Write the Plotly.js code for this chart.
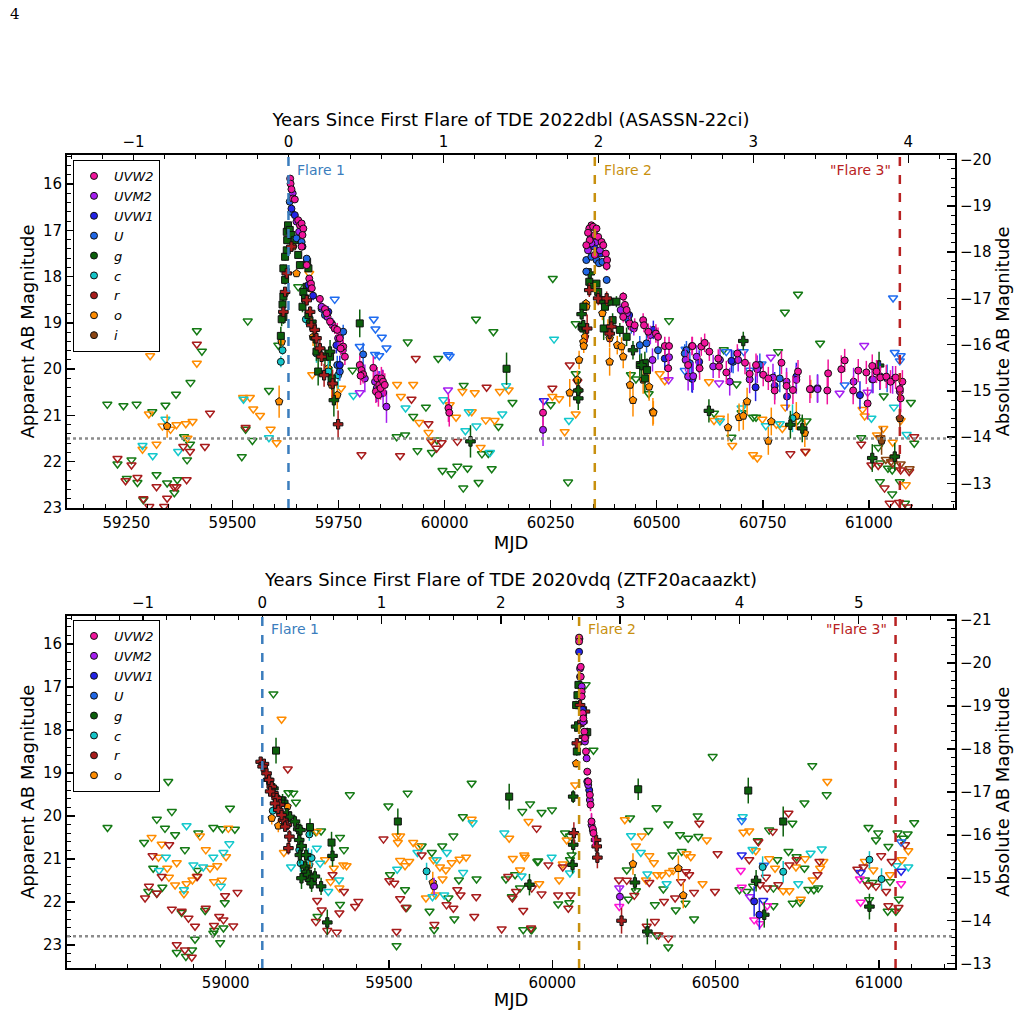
<!DOCTYPE html>
<html>
<head>
<meta charset="utf-8">
<script src="https://cdn.plot.ly/plotly-3.0.1.min.js"></script>
<style>
  html, body { margin: 0; padding: 0; background: #fff; }
  #chart { width: 1019px; height: 1033px; }
</style>
</head>
<body>
<div id="chart"></div>
<script>
// ---------------------------------------------------------------
// Light curves of two repeating TDEs: AT 2022dbl (top), AT 2020vdq (bottom)
// Detections: [MJD, apparent AB mag, 1-sigma error]
// Upper limits: [MJD, limiting AB mag]
// ---------------------------------------------------------------

const FILTERS_22DBL = ['UVW2', 'UVM2', 'UVW1', 'U', 'g', 'c', 'r', 'o', 'i'];
const FILTERS_20VDQ = ['UVW2', 'UVM2', 'UVW1', 'U', 'g', 'c', 'r', 'o'];

const FLARES_22DBL = [59632, 60354, 61073];
const FLARES_20VDQ = [59112, 60082, 61051];
const FLARE_LABELS = ['Flare 1', 'Flare 2', '"Flare 3"'];

const DISTMOD_22DBL = 35.47;
const DISTMOD_20VDQ = 36.44;
const LIMIT_22DBL = 21.5;
const LIMIT_20VDQ = 22.8;

const TITLE_22DBL = 'Years Since First Flare of TDE 2022dbl (ASASSN-22ci)';
const TITLE_20VDQ = 'Years Since First Flare of TDE 2020vdq (ZTF20acaazkt)';

// ---------------- AT 2022dbl : detections ----------------
const A_UVW2 = [
  [59636,15.88,0.05],[59637,15.99,0.05],[59639,16.11,0.05],[59642,16.31,0.05],[59647,16.33,0.05],
  [59655,16.78,0.05],[59659,16.89,0.05],[59663,16.85,0.05],[59667,16.96,0.05],[59665,17.10,0.05],
  [59663,17.35,0.06],[59675,17.75,0.06],[59681,18.04,0.06],[59685,18.15,0.07],[59687,18.25,0.07],
  [59706,18.48,0.08],[59718,18.70,0.10],[59722,18.79,0.10],[59730,18.97,0.12],[59741,19.12,0.12],
  [59747,19.15,0.15],[59753,19.33,0.15],[59761,19.51,0.15],[59765,19.73,0.18],[59755,19.55,0.15],
  [59800,19.91,0.20],[59804,20.02,0.20],[59808,20.11,0.20],[59802,20.14,0.20],[59832,19.97,0.25],
  [59841,20.20,0.25],[59846,20.34,0.25],[59851,20.20,0.25],[59855,20.27,0.25],[59838,20.48,0.25],
  [59844,20.56,0.25],[59849,20.41,0.25],[59859,20.34,0.25],
  [60009,20.84,0.30],[60011,20.94,0.30],[60232,20.94,0.30],
  [60346,16.89,0.05],[60341,16.96,0.05],[60350,16.92,0.05],[60358,16.96,0.05],[60338,17.05,0.05],
  [60354,17.10,0.05],[60362,17.14,0.05],[60342,17.21,0.05],[60370,17.25,0.06],[60334,17.32,0.06],
  [60374,17.32,0.06],[60380,17.50,0.07],[60354,17.53,0.06],[60383,17.64,0.08],[60382,17.77,0.10],
  [60421,18.43,0.10],[60425,18.61,0.10],[60429,18.72,0.12],[60421,18.87,0.12],[60436,19.01,0.15],
  [60448,19.05,0.15],[60468,18.94,0.15],[60470,19.05,0.15],[60480,19.19,0.18],[60498,19.23,0.20],
  [60503,19.30,0.20],[60519,19.50,0.20],[60529,19.50,0.20],[60527,19.98,0.25],[60583,19.50,0.20],
  [60574,19.91,0.25],
  [60584,19.50,0.20],[60605,19.51,0.20],[60613,19.43,0.20],[60624,19.62,0.20],[60601,19.98,0.25],
  [60645,19.77,0.20],[60647,19.94,0.25],[60664,20.07,0.25],[60690,19.66,0.20],[60708,19.86,0.25],
  [60719,20.10,0.25],[60734,19.91,0.25],[60751,20.12,0.25],[60763,20.20,0.25],[60778,20.46,0.30],
  [60794,19.86,0.25],[60806,20.36,0.30],[60821,20.45,0.30],[60833,20.05,0.25],[60861,20.43,0.30],
  [60902,20.46,0.30],[60904,20.09,0.30],[60935,20.00,0.30],[60943,19.81,0.25],[60963,20.46,0.30],
  [60975,20.03,0.25],[60994,20.07,0.25],[61008,19.93,0.25],[61018,20.05,0.25],[61027,20.18,0.25],
  [61041,20.16,0.25],[61051,20.27,0.25],[61063,20.18,0.25],[61073,20.43,0.30],[61079,20.27,0.25],
  [61075,20.63,0.30],[60997,20.74,0.35]
];
const A_UVM2 = [
  [59642,16.20,0.06],[59651,16.81,0.06],[59657,17.03,0.06],[59710,18.65,0.10],[59724,18.87,0.12],
  [59736,19.05,0.15],[59749,19.33,0.20],[59760,19.59,0.20],[59812,20.20,0.30],[59836,20.27,0.30],
  [59844,20.34,0.30],[59863,20.81,0.35],[59855,20.51,0.30],[60232,21.31,0.35],
  [60345,17.14,0.06],[60358,17.25,0.06],[60338,17.43,0.07],[60366,17.43,0.07],[60346,17.28,0.06],
  [60415,18.72,0.12],[60430,18.79,0.12],[60446,19.12,0.15],[60485,19.26,0.20],[60490,19.80,0.25],
  [60529,19.74,0.25],[60594,19.73,0.25],[60574,20.16,0.30],
  [60568,19.80,0.25],[60586,20.15,0.30],[60633,19.94,0.25],[60649,19.80,0.25],[60672,20.27,0.30],
  [60692,19.80,0.25],[60719,20.22,0.30],[60737,20.00,0.30],[60774,20.18,0.30],[60806,20.27,0.30],
  [60829,20.23,0.30],[60879,20.43,0.30],[60964,20.27,0.30],[61010,20.22,0.30],[61056,20.23,0.30],
  [61073,20.48,0.35]
];
const A_UVW1 = [
  [59639,16.53,0.05],[59647,16.67,0.05],[59665,17.35,0.06],[59679,18.18,0.08],[59690,18.41,0.10],
  [59726,18.76,0.12],[59745,19.48,0.18],[59753,19.91,0.20],[59840,20.41,0.30],[59854,20.31,0.30],
  [60352,17.35,0.06],[60368,17.50,0.07],[60492,19.15,0.20],[60519,19.77,0.25],[60583,20.20,0.30],
  [60435,18.83,0.12],
  [60584,20.21,0.30],[60600,19.84,0.25],[60676,19.82,0.25],[60733,20.39,0.30],[60778,20.36,0.30],
  [60807,20.59,0.30],[60829,20.16,0.30],[60879,20.41,0.30],[60979,20.56,0.30],[61026,20.15,0.30]
];
const A_U = [
  [59635,16.38,0.04],[59639,16.60,0.04],[59651,17.17,0.05],[59663,17.25,0.05],[59675,17.61,0.06],
  [59710,18.69,0.10],[59718,18.83,0.10],[59734,19.01,0.12],[59761,19.19,0.15],[59747,19.91,0.20],
  [59753,20.05,0.20],[59808,19.68,0.25],[59847,20.34,0.30],
  [60334,17.64,0.05],[60346,17.57,0.05],[60358,17.64,0.05],[60364,17.71,0.05],[60372,17.68,0.05],
  [60334,17.89,0.06],[60382,18.07,0.08],[60421,18.79,0.10],[60433,18.94,0.12],[60440,19.08,0.15],
  [60460,19.48,0.20],[60476,19.44,0.20],[60503,19.59,0.20],[60570,19.59,0.20],
  [60566,19.66,0.20],[60578,19.87,0.25],[60680,19.84,0.25],[60743,19.91,0.25],[60790,20.20,0.30],
  [61008,20.22,0.30],[61043,20.20,0.30]
];
const A_G_SQUARE = [
  [59628,17.03,0.06],[59631,16.89,0.06],[59635,16.99,0.06],[59629,17.21,0.06],[59639,17.10,0.06],
  [59628,17.43,0.07],[59624,17.57,0.08],[59620,17.82,0.08],[59624,18.07,0.10],[59620,18.43,0.12],
  [59618,18.60,0.12],[59620,18.87,0.15],[59616,18.92,0.15],[59614,19.28,0.20],[59647,17.21,0.06],
  [59655,17.53,0.07],[59659,17.75,0.08],[59676,17.68,0.08],[59679,17.82,0.08],[59675,18.22,0.10],
  [59667,18.33,0.10],[59671,18.47,0.10],[59665,18.65,0.12],[59679,18.83,0.12],[59698,19.62,0.20],
  [59702,20.05,0.30],[59718,19.73,0.20],[59730,19.73,0.20],[59734,20.20,0.25],[59800,19.01,0.30],
  [60146,19.99,0.35],
  [60341,18.11,0.07],[60346,18.22,0.07],[60358,18.15,0.07],[60362,18.33,0.08],[60370,18.51,0.10],
  [60378,18.65,0.10],[60389,18.54,0.10],[60405,18.54,0.12],[60375,19.12,0.25],[60396,18.94,0.15],
  [60413,19.15,0.15],[60429,19.30,0.20],[60460,19.91,0.25],[60472,19.87,0.25],[60477,20.02,0.25],
  [60327,18.65,0.10],[60323,19.08,0.12],[60327,19.12,0.12],[60472,20.20,0.30]
];
const A_G_CROSS = [
  [59686,18.97,0.15],[59694,19.33,0.20],[59730,19.62,0.25],[59739,20.67,0.35],[60061,21.56,0.35],
  [60323,18.81,0.12],[60327,19.05,0.12],[60444,19.59,0.20],[60464,19.91,0.25],[60315,20.63,0.25],
  [60315,20.46,0.25],[60342,17.93,0.08],
  [60623,20.90,0.25],[60704,19.39,0.20],[60815,21.20,0.30],[60843,21.28,0.30],[61008,21.92,0.30],
  [61061,21.89,0.30],[61024,19.92,0.30]
];
const A_R_CROSS = [
  [59628,17.93,0.08],[59624,18.33,0.10],[59620,18.76,0.12],[59639,17.35,0.07],[59675,18.51,0.10],
  [59683,18.76,0.12],[59686,19.05,0.15],[59694,19.15,0.15],[59698,19.33,0.20],[59706,19.55,0.20],
  [59710,19.73,0.20],[59716,20.13,0.25],[59736,20.31,0.30],[59749,21.19,0.30],
  [60341,18.29,0.15],[60362,18.47,0.15],[60382,18.47,0.15],[60336,19.12,0.30],[60393,19.08,0.20],
  [60389,19.23,0.20]
];
const A_C = [
  [59618,19.59,0.10],[59614,19.84,0.12],[59673,18.92,0.12],[59698,19.66,0.20],[59726,20.05,0.25],
  [59749,20.13,0.30],[60820,21.06,0.30]
];
const A_O = [
  [59346,21.23,0.25],[59610,20.70,0.35],
  [59626,17.86,0.08],[59643,17.35,0.06],[59651,17.93,0.08],[59624,18.36,0.10],[59616,19.41,0.15],
  [59683,18.25,0.10],[59690,19.30,0.20],[59726,19.98,0.25],[59734,20.34,0.30],[59747,20.56,0.30],
  [60333,18.58,0.10],[60334,18.65,0.10],[60331,19.30,0.15],[60327,19.41,0.15],[60328,19.50,0.15],
  [60317,19.80,0.20],[60295,20.51,0.30],[60372,18.79,0.15],[60385,19.12,0.20],[60389,19.33,0.20],
  [60407,19.48,0.20],[60417,19.51,0.20],[60421,19.73,0.25],[60389,19.84,0.30],[60437,20.34,0.30],
  [60444,20.67,0.35],[60468,20.23,0.30],[60482,20.38,0.30],[60491,20.92,0.30],[60313,20.23,0.20],
  [60316,20.45,0.20],
  [60668,21.26,0.30],[60694,21.04,0.30],[60704,21.01,0.30],[60713,20.70,0.30],[60770,21.13,0.30],
  [60763,21.55,0.30],[60829,21.01,0.30],[60849,21.38,0.30],[60863,20.43,0.20],[60492,20.94,0.25]
];
const A_I = [[61030,21.55,0.30],[61073,21.06,0.30]];

// ---------------- AT 2022dbl : upper limits ----------------
const AL_UVM2 = [[59800,20.51],[60008,20.45],[60528,20.23],[60647,20.30],[60769,19.74],[60931,20.52],
  [60989,19.49],[60997,20.50]];
const AL_UVW1 = [[60234,20.68]];
const AL_U = [[59741,18.49],[59833,18.92],[59837,19.13],[59852,19.31],[59863,19.54],[59800,19.51],
  [59836,19.68],[59846,19.71],[60008,19.69],[60012,19.72],[60568,19.57],[60566,20.03],[60664,19.62],
  [60705,19.62],[60719,20.02],[60747,19.89],[61061,19.64],[61075,19.71],[61073,19.82],[60943,20.34],
  [61057,18.46]];
const AL_G = [
  [59205,20.76],[59243,20.79],[59274,20.76],[59311,20.92],[59342,20.78],[59367,20.54],[59401,20.29],
  [59416,19.17],[59428,19.61],[59536,18.96],[59586,20.46],[59531,21.30],[59547,21.54],[59522,21.89],
  [59229,22.05],[59262,21.96],[59276,22.45],[59251,22.36],[59290,22.82],[59321,22.28],[59346,22.46],
  [59363,22.67],[59370,22.39],[59393,21.96],[59386,21.46],[59400,21.62],[59783,20.02],[59887,21.46],
  [59913,19.41],[59926,21.02],[59936,21.76],[59956,20.82],[59970,21.80],[59985,19.77],[59982,21.53],
  [59995,22.19],[60016,22.26],[60030,22.10],[60044,22.57],[60054,22.14],[60045,20.35],[60080,22.45],
  [60074,18.92],[60115,19.19],[60088,21.83],[60103,21.82],[60111,22.15],[60127,21.24],[60160,20.72],
  [59907,21.42],[59608,19.48],[59655,18.22],
  [60255,18.04],[60309,19.02],[60802,18.77],[60833,18.38],
  [60250,20.77],[60309,20.10],[60291,22.44],[60481,20.53],[60439,20.12],[60451,20.21],[60529,18.95],
  [60885,19.44],[60658,19.58],[60688,20.32],[60635,20.95],[60676,21.47],[60727,21.04],[60734,21.04],
  [60786,19.62],[60832,21.11],[60853,21.12],[60982,21.48],[61026,22.43],[61027,22.03],[61045,22.14],
  [61055,22.18],[61099,20.72],[61107,21.60],[61073,22.43],[61085,22.90],[61022,21.69],[61035,20.58],
  [61055,22.70],[60700,20.94]
];
const AL_C = [
  [59342,21.08],[59288,21.65],[59312,21.87],[59372,21.78],[59526,20.65],[59586,21.48],[59785,20.57],
  [59908,20.84],[59997,20.66],[60049,21.33],[60057,20.92],[60075,21.23],[60107,21.80],[60136,20.97],
  [60145,20.36],[60258,19.35],[60293,21.11],[60700,20.84],[60649,21.12],[60757,21.22],[60790,21.18],
  [61006,21.06],[61059,20.82],[61089,21.41]
];
const AL_R = [
  [59229,21.93],[59262,22.07],[59248,22.41],[59276,22.34],[59290,22.80],[59304,22.97],[59321,22.54],
  [59339,22.97],[59346,22.79],[59362,22.54],[59368,22.54],[59392,22.39],[59400,21.78],[59384,21.67],
  [59416,19.46],[59435,21.67],[59447,20.95],[59531,21.26],[59804,21.85],[59895,21.87],[59922,20.65],
  [59932,19.77],[59962,21.18],[59969,21.56],[59981,21.71],[59993,21.59],[60030,21.56],[60099,20.39],
  [60295,19.91],[60313,20.27],[60254,20.41],[60815,21.83],[60850,21.78],[60982,21.62],[61006,22.07],
  [61022,22.08],[61037,22.57],[61049,22.90],[61071,22.88],[61092,22.98],[61095,22.21],[61107,21.46],
  [61075,22.18],[61056,22.03]
];
const AL_O = [
  [59306,19.71],[59416,19.87],[59303,20.97],[59335,21.23],[59368,21.20],[59354,21.30],[59390,21.18],
  [59406,21.13],[59288,21.73],[59321,21.62],[59394,21.49],[59525,20.61],[59541,20.61],[59549,20.86],
  [59565,21.00],[59590,21.30],[59604,21.59],[59688,20.12],[59756,20.41],[59888,20.33],[59897,20.59],
  [59926,20.33],[59940,21.15],[59968,21.53],[60012,20.77],[60027,21.04],[60042,20.48],[60071,20.51],
  [60097,21.10],[60118,21.11],[60130,20.48],[60151,20.45],[60064,20.92],[60085,21.69],[59962,21.37],
  [59681,17.93],
  [60270,20.64],[60254,20.59],[60309,20.97],[60283,21.35],[60623,20.27],[60507,20.10],[60519,20.25],
  [60635,21.11],[60649,21.06],[60678,21.65],[60727,21.85],[60737,21.92],[60749,21.08],[60782,21.19],
  [60803,20.82],[60796,21.28],[60851,21.78],[60985,20.87],[60990,21.01],[61019,21.42],[61027,21.49],
  [61034,21.28],[61056,21.58],[61075,21.11],[61087,22.50]
];
const AL_I = [[61027,21.48],[61040,21.95],[61052,22.00],[61075,22.05],[61096,22.15],[61062,21.90]];

// ---------------- AT 2020vdq : detections ----------------
const B_UVW2 = [
  [60082,15.85,0.04],[60082,15.94,0.04],[60087,16.53,0.04],[60087,16.76,0.04],[60090,17.11,0.05],
  [60090,17.22,0.05],[60093,17.61,0.05],[60095,17.73,0.05],[60098,18.04,0.06],[60100,18.19,0.06],
  [60103,18.50,0.07],[60107,18.97,0.08],[60110,19.20,0.10],[60115,19.51,0.12],[60117,19.74,0.15],
  [60120,20.13,0.20],[60124,20.30,0.25],[60126,20.40,0.30]
];
const B_UVM2 = [
  [60083,15.88,0.04],[60085,16.57,0.04],[60090,16.99,0.05],[60095,17.81,0.05],[60100,18.27,0.06],
  [60105,18.66,0.08],[60110,19.28,0.10],[60115,19.63,0.15],[60120,20.21,0.25],[59638,21.64,0.20],
  [60207,21.88,0.25]
];
const B_UVW1 = [
  [60082,16.18,0.04],[60085,16.76,0.04],[60093,17.53,0.05],[60107,19.20,0.10],[60113,19.40,0.12],
  [60124,20.33,0.25],[60618,21.99,0.35],[60634,22.30,0.35]
];
const B_G_SQUARE = [
  [59154,18.48,0.30],[59258,20.26,0.20],[59324,20.62,0.25],[59174,19.64,0.15],[59527,20.13,0.30],
  [59868,19.55,0.30],[60080,16.95,0.10],[60073,17.42,0.10],[60075,18.50,0.10],[60107,18.05,0.10],
  [60077,17.19,0.10],[60600,19.41,0.30],[60263,19.38,0.25],[60707,20.13,0.35]
];
const B_G_CROSS = [
  [59130,19.16,0.05],[59146,19.36,0.06],[59161,19.63,0.07],[59176,19.67,0.08],[59187,19.94,0.10],
  [59197,20.02,0.10],[59212,20.13,0.12],[59222,20.31,0.15],[59229,20.33,0.15],[59225,20.56,0.15],
  [59232,20.70,0.20],[59227,20.91,0.20],[59243,21.18,0.20],[59248,21.30,0.20],[59253,21.37,0.20],
  [59258,21.49,0.20],[59263,21.57,0.20],[59273,21.41,0.20],[59232,21.45,0.25],[59292,21.64,0.20],
  [59311,22.48,0.30],[59327,20.93,0.25],[59166,19.67,0.08],[59246,20.91,0.25],[59930,21.60,0.25],
  [60073,17.92,0.08],[60064,19.55,0.15],[60064,20.67,0.20],[60062,21.14,0.20],[60253,21.55,0.20],
  [60291,22.69,0.30],[60624,21.51,0.25],[60649,22.30,0.30],[60971,22.11,0.30]
];
const B_R_CROSS = [
  [59107,18.74,0.05],[59117,18.79,0.05],[59113,18.85,0.05],[59125,19.01,0.05],[59133,19.16,0.06],
  [59141,19.32,0.06],[59146,19.47,0.07],[59156,19.59,0.08],[59166,19.74,0.08],[59161,19.86,0.10],
  [59176,20.09,0.10],[59187,20.21,0.12],[59195,20.48,0.15],[59192,20.75,0.15],[59182,20.25,0.12],
  [59171,19.98,0.10],[59151,19.71,0.08],[59136,19.43,0.07],
  [60075,18.31,0.10],[60092,17.81,0.08],[60097,18.16,0.10],[60134,20.56,0.20],[60136,20.71,0.20],
  [60138,20.97,0.25],[60066,20.40,0.25],[60212,22.44,0.30],[60100,17.57,0.08],[60085,17.42,0.08]
];
const B_C = [
  [59144,19.88,0.10],[59256,20.43,0.15],[59253,20.95,0.20],[59263,20.98,0.20],[59229,21.10,0.20],
  [59225,20.79,0.15],[59615,21.29,0.20],[60644,21.19,0.25],[60707,21.30,0.25],[60971,21.02,0.20],
  [61008,21.47,0.25]
];
const B_O = [
  [59141,20.05,0.15],[59161,20.23,0.15],[59189,19.78,0.10],[59256,21.14,0.20],[59634,21.55,0.25],
  [60073,18.78,0.10],[60087,17.46,0.10],[60247,21.12,0.25],[60386,21.22,0.30],[60401,21.85,0.30]
];

// ---------------- AT 2020vdq : upper limits ----------------
const BL_UVW2 = [[60205,22.11],[60577,21.27],[60580,21.66],[60618,22.42],[60636,22.51],[60658,22.09],
  [60942,21.47],[60944,22.01],[61068,21.58]];
const BL_UVM2 = [[60205,21.68],[60605,21.88]];
const BL_UVW1 = [[60580,20.91],[60646,21.97],[60944,21.32],[61068,21.29]];
const BL_U = [[60580,20.11],[61068,20.61],[60648,21.15]];
const BL_G = [
  [58638,20.27],[58750,20.62],[58789,20.08],[58835,19.90],[58814,20.29],[58845,20.44],[58875,20.79],
  [58916,20.40],[58962,20.27],[58990,20.30],[59013,19.82],[59028,20.31],[58778,21.22],[58763,21.76],
  [58789,21.80],[58806,21.66],[58914,21.27],[58937,22.20],[58865,22.25],[58850,23.18],[58878,23.27],
  [58897,23.12],[58906,22.87],[58962,22.73],[58965,22.67],[58983,22.95],[58993,22.61],[58997,22.02],
  [58824,19.20],[59380,19.51],[59498,19.77],[59557,19.47],[59753,19.24],[59523,23.02],[59503,21.37],
  [59600,20.70],[59549,21.72],[59554,22.13],[59624,22.22],[59631,20.85],[59663,20.70],[59682,21.91],
  [59697,20.47],[59700,22.40],[59714,21.49],[59726,20.02],[59768,21.47],[59638,22.65],[59908,19.90],
  [59932,19.72],[59954,21.06],[59886,21.37],[59858,21.47],[59911,22.65],[59901,21.68],[59934,22.64],
  [59876,21.88],
  [59192,19.46],[59207,19.47],[59215,19.68],[59292,20.35],[59276,20.37],[59350,20.50],[59362,20.79],
  [59350,22.06],[59281,22.34],[59146,17.16],
  [60102,16.95],[60126,18.47],[60491,18.62],[60796,18.83],[60840,19.51],
  [59967,19.92],[59999,19.86],[60039,20.40],[60054,20.47],[60059,20.91],[60054,21.02],[59957,21.05],
  [60018,22.05],[60052,22.02],[59937,22.65],[60319,19.81],[60445,20.00],[60355,20.19],[60294,20.34],
  [60391,20.44],[60416,20.52],[60447,20.48],[60238,20.05],[60368,20.91],[60396,20.83],[60228,21.26],
  [60256,21.74],[60233,21.94],[60314,22.07],[60340,21.70],[60378,22.19],[60408,22.03],[60434,22.40],
  [60355,23.05],[60319,22.77],[60629,20.58],[60664,20.33],[60689,21.02],[60723,20.83],[60748,20.95],
  [60772,21.22],[60735,20.17],[60772,19.70],[60573,21.72],[60595,21.76],[60615,21.64],[60677,21.68],
  [60677,22.09],[60736,22.03],[60758,22.01],[60784,21.71],[60801,21.72],[60814,21.68],[60968,20.27],
  [60998,20.40],[60991,20.56],[61029,20.71],[61057,20.40],[61075,20.52],[61088,20.42],[61108,20.16],
  [60957,21.49],[60981,21.55],[61034,21.53],[61027,22.22],[61061,21.94],[60970,21.95],[61052,22.22]
];
const BL_C = [
  [58880,20.23],[58901,21.14],[58931,21.19],[58796,21.27],[58817,20.96],[58872,21.72],[58962,20.96],
  [58993,20.85],[59011,20.65],[58985,21.64],[59200,21.19],[59279,20.75],[59289,21.10],[59347,21.49],
  [59525,21.24],[59587,20.85],[59646,21.02],[59677,20.85],[59727,21.32],[59756,20.16],[59853,20.40],
  [59906,21.40],[59633,21.88],[59669,21.84],[59314,21.76],
  [59998,20.96],[60054,21.33],[60241,20.46],[60271,20.85],[60291,21.35],[60350,21.58],[60583,20.02],
  [60613,20.78],[60753,21.58],[60791,20.87],[60825,20.77],[61090,21.19],[61054,21.16]
];
const BL_R = [
  [58753,21.91],[58765,21.64],[58776,20.93],[58789,21.80],[58804,21.41],[58827,20.67],[58835,22.17],
  [58865,22.22],[58886,22.38],[58850,23.00],[58875,23.12],[58896,23.29],[58906,22.57],[58913,21.41],
  [58939,22.15],[58980,22.34],[58964,22.55],[58993,22.42],[58998,21.86],[59023,22.56],[59036,21.78],
  [59483,20.54],[59501,21.51],[59516,21.57],[59534,21.93],[59551,22.13],[59523,22.69],[59600,20.91],
  [59639,22.53],[59676,22.07],[59697,22.15],[59709,21.72],[59719,21.84],[59761,22.34],[59767,21.88],
  [59845,22.63],[59865,21.41],[59878,21.91],[59889,21.76],[59911,22.20],[59935,22.61],[59952,20.29],
  [59190,18.91],[59327,21.37],[59406,21.99],[59396,22.11],[59362,21.76],[59280,21.97],[59294,22.19],
  [59276,22.46],[59348,22.26],[59311,22.67],[59340,22.71],
  [59988,21.14],[60032,21.19],[59937,21.68],[59967,21.82],[60018,21.84],[60056,21.84],[60049,22.15],
  [60204,21.49],[60228,21.50],[60251,21.85],[60297,21.55],[60289,22.57],[60314,22.46],[60325,22.77],
  [60355,22.85],[60342,21.99],[60376,21.91],[60394,21.53],[60409,21.30],[60419,21.37],[60434,21.78],
  [60450,20.17],[60506,20.88],[60498,21.76],[60603,21.02],[60631,20.60],[60636,21.60],[60654,21.43],
  [60658,21.68],[60675,20.36],[60692,21.60],[60723,19.94],[60726,21.14],[60748,21.02],[60812,21.37],
  [60818,21.06],[60934,21.24],[60953,21.19],[60968,21.61],[60991,21.64],[61007,20.93],[61022,21.76],
  [61029,22.09],[61039,21.06],[61060,22.13],[61080,20.67]
];
const BL_O = [
  [58773,20.50],[58804,20.66],[58794,20.96],[58821,21.22],[58826,21.43],[58850,21.09],[58845,21.61],
  [58872,21.81],[58880,21.58],[58898,21.49],[58911,21.41],[58921,20.47],[58939,20.79],[58952,21.22],
  [58964,21.53],[58988,21.50],[58974,21.16],[59001,20.95],[59008,20.29],[59279,20.36],[59304,21.02],
  [59321,21.53],[59331,21.22],[59348,21.68],[59360,21.14],[59370,21.16],[59523,20.47],[59534,20.47],
  [59527,20.62],[59534,21.04],[59549,21.16],[59562,21.06],[59574,20.62],[59590,20.71],[59613,21.91],
  [59636,21.02],[59643,21.84],[59656,21.19],[59674,21.26],[59664,21.47],[59692,21.09],[59716,21.01],
  [59736,20.96],[59753,20.08],[59868,20.52],[59879,20.99],[59927,20.13],[59914,20.91],[59901,21.26],
  [59960,21.58],[59178,20.85],[59171,17.75],
  [60070,19.28],[60044,20.56],[59916,20.96],[60032,21.12],[60021,21.49],[60222,20.09],[60256,20.70],
  [60274,20.47],[60297,20.93],[60311,21.09],[60287,21.49],[60321,21.37],[60335,21.37],[60358,21.32],
  [60370,21.27],[60411,20.88],[60424,20.95],[60460,21.58],[60473,20.56],[60585,20.38],[60603,20.35],
  [60623,20.81],[60664,21.00],[60682,21.22],[60707,21.74],[60726,21.74],[60746,21.19],[60774,21.00],
  [60797,21.49],[60820,21.22],[60830,21.06],[60761,21.94],[60842,19.20],[60983,21.26],[60957,21.06],
  [61034,21.37],[61070,21.02],[61090,20.81]
];

// ---------------- styling ----------------
const FILTER_COLOR = {
  UVW2: '#f0149c', UVM2: '#a51ef0', UVW1: '#2323e6', U: '#1f66e5',
  g: '#0c5f0c', c: '#14c4c8', r: '#a81c1c', o: '#ff8c00', i: '#8b4513'
};
const LIMIT_COLOR = {
  UVW2: '#ff14d2', UVM2: '#a51ef0', UVW1: '#2323e6', U: '#1f6cf0',
  g: '#157a15', c: '#14c8cc', r: '#a81c1c', o: '#ff8c00', i: '#8b4513'
};
const FONT = 'DejaVu Sans, Verdana, sans-serif';

function detTrace(data, filt, symbol, size, xa, ya) {
  return {
    type: 'scatter', mode: 'markers', xaxis: xa, yaxis: ya,
    x: data.map(d => d[0]), y: data.map(d => d[1]),
    error_y: { type: 'data', array: data.map(d => d[2]), visible: true,
               color: FILTER_COLOR[filt], thickness: 1.5, width: 0 },
    marker: { symbol: symbol, size: size, color: FILTER_COLOR[filt],
              line: { color: '#111', width: 1 } },
    showlegend: false, hoverinfo: 'skip'
  };
}
function limTrace(data, filt, xa, ya) {
  return {
    type: 'scatter', mode: 'markers', xaxis: xa, yaxis: ya,
    x: data.map(d => d[0]), y: data.map(d => d[1]),
    marker: { symbol: 'triangle-down-open', size: 8, color: LIMIT_COLOR[filt],
              line: { width: 1.5 } },
    showlegend: false, hoverinfo: 'skip'
  };
}
function legendTraces(filters, legendId, xa, ya) {
  return filters.map(f => ({
    type: 'scatter', mode: 'markers', xaxis: xa, yaxis: ya,
    x: [null], y: [null], name: '<i>' + f + '</i>', legend: legendId,
    marker: { symbol: 'circle', size: 7, color: FILTER_COLOR[f], line: { color: '#111', width: 1 } },
    hoverinfo: 'skip'
  }));
}

const traces = [
  // AT 2022dbl
  limTrace(AL_G, 'g', 'x', 'y'), limTrace(AL_O, 'o', 'x', 'y'), limTrace(AL_C, 'c', 'x', 'y'),
  limTrace(AL_R, 'r', 'x', 'y'), limTrace(AL_I, 'i', 'x', 'y'), limTrace(AL_U, 'U', 'x', 'y'),
  limTrace(AL_UVW1, 'UVW1', 'x', 'y'), limTrace(AL_UVM2, 'UVM2', 'x', 'y'),
  detTrace(A_O, 'o', 'pentagon', 8, 'x', 'y'),
  detTrace(A_I, 'i', 'pentagon', 8, 'x', 'y'),
  detTrace(A_C, 'c', 'circle', 7, 'x', 'y'),
  detTrace(A_G_SQUARE, 'g', 'square', 7, 'x', 'y'),
  detTrace(A_G_CROSS, 'g', 'cross', 8, 'x', 'y'),
  detTrace(A_R_CROSS, 'r', 'cross', 8, 'x', 'y'),
  detTrace(A_U, 'U', 'circle', 7, 'x', 'y'),
  detTrace(A_UVW1, 'UVW1', 'circle', 7, 'x', 'y'),
  detTrace(A_UVM2, 'UVM2', 'circle', 7, 'x', 'y'),
  detTrace(A_UVW2, 'UVW2', 'circle', 7, 'x', 'y'),
  // AT 2020vdq
  limTrace(BL_G, 'g', 'x3', 'y3'), limTrace(BL_O, 'o', 'x3', 'y3'), limTrace(BL_C, 'c', 'x3', 'y3'),
  limTrace(BL_R, 'r', 'x3', 'y3'), limTrace(BL_U, 'U', 'x3', 'y3'), limTrace(BL_UVW1, 'UVW1', 'x3', 'y3'),
  limTrace(BL_UVM2, 'UVM2', 'x3', 'y3'), limTrace(BL_UVW2, 'UVW2', 'x3', 'y3'),
  detTrace(B_O, 'o', 'pentagon', 8, 'x3', 'y3'),
  detTrace(B_C, 'c', 'circle', 7, 'x3', 'y3'),
  detTrace(B_G_SQUARE, 'g', 'square', 7, 'x3', 'y3'),
  detTrace(B_G_CROSS, 'g', 'cross', 8, 'x3', 'y3'),
  detTrace(B_R_CROSS, 'r', 'cross', 8, 'x3', 'y3'),
  detTrace(B_UVW1, 'UVW1', 'circle', 7, 'x3', 'y3'),
  detTrace(B_UVM2, 'UVM2', 'circle', 7, 'x3', 'y3'),
  detTrace(B_UVW2, 'UVW2', 'circle', 7, 'x3', 'y3'),
  // secondary axes carriers
  { type: 'scatter', x: [null], y: [null], xaxis: 'x2', yaxis: 'y2', showlegend: false, hoverinfo: 'skip' },
  { type: 'scatter', x: [null], y: [null], xaxis: 'x4', yaxis: 'y4', showlegend: false, hoverinfo: 'skip' }
].concat(legendTraces(FILTERS_22DBL, 'legend', 'x', 'y'))
 .concat(legendTraces(FILTERS_20VDQ, 'legend2', 'x3', 'y3'));

// ---------------- axes ----------------
const W = 1019, H = 1033;
const X_DOM = [67 / W, 955 / W];
const Y_DOM_TOP = [1 - 508 / H, 1 - 155 / H];
const Y_DOM_BOT = [1 - 968 / H, 1 - 615.7 / H];

const MJD_RANGE_22DBL = [59110, 61203];
const MJD_RANGE_20VDQ = [58514, 61233];
const MAG_RANGE_22DBL = [23.0, 15.37];
const MAG_RANGE_20VDQ = [23.54, 15.34];

const tickFont = { family: FONT, size: 15, color: '#000' };
const titleFont = { family: FONT, size: 18, color: '#000' };

function baseAxis(extra) {
  return Object.assign({
    showline: true, linecolor: '#000', linewidth: 2, showgrid: false, zeroline: false,
    ticks: 'inside', ticklen: 8, tickwidth: 1.5, tickcolor: '#000', tickfont: tickFont,
    fixedrange: true, automargin: false
  }, extra);
}

function panelAxes(mjdRange, magRange, flare1, distmod, mjdDtick, mjdMinor, yDom, title, ids) {
  const yrRange = mjdRange.map(m => (m - flare1) / 365.25);
  const absRange = magRange.map(m => m - distmod);
  const o = {};
  o[ids.x] = baseAxis({ domain: X_DOM, range: mjdRange, anchor: ids.yShort, dtick: mjdDtick,
    tickformat: 'd',
    minor: { ticks: 'inside', dtick: mjdMinor, ticklen: 4, tickwidth: 1, tickcolor: '#000' },
    title: { text: 'MJD', font: titleFont, standoff: 2 } });
  o[ids.xt] = baseAxis({ overlaying: ids.xShort, side: 'top', anchor: ids.yShort, range: yrRange, dtick: 1,
    minor: { ticks: 'inside', dtick: 0.2, ticklen: 4, tickwidth: 1, tickcolor: '#000' },
    title: { text: title, font: titleFont, standoff: 2 } });
  o[ids.y] = baseAxis({ domain: yDom, range: magRange, anchor: ids.xShort, dtick: 1,
    minor: { ticks: 'inside', dtick: 0.2, ticklen: 4, tickwidth: 1, tickcolor: '#000' },
    title: { text: 'Apparent AB Magnitude', font: titleFont, standoff: 4 } });
  o[ids.yr] = baseAxis({ overlaying: ids.yShort, side: 'right', anchor: ids.xShort, range: absRange, dtick: 1,
    minor: { ticks: 'inside', dtick: 0.2, ticklen: 4, tickwidth: 1, tickcolor: '#000' },
    title: { text: 'Absolute AB Magnitude', font: titleFont, standoff: 4 } });
  return o;
}

const FLARE_COLORS = ['#3b7dbd', '#c8900e', '#b82222'];

function flareShapes(flares, xref, yref, limit) {
  const s = flares.map((m, k) => ({
    type: 'line', xref: xref, yref: yref + ' domain', x0: m, x1: m, y0: 0, y1: 1,
    line: { color: FLARE_COLORS[k], width: 2.5, dash: 'dash' }, layer: 'above'
  }));
  s.push({ type: 'line', xref: xref + ' domain', yref: yref, x0: 0, x1: 1, y0: limit, y1: limit,
    line: { color: '#8c8c8c', width: 2.5, dash: 'dot' }, layer: 'above' });
  return s;
}
function flareNotes(flares, xref, yref, ypos) {
  return flares.map((m, k) => ({
    xref: xref, yref: yref + ' domain', x: m, y: ypos, text: FLARE_LABELS[k],
    showarrow: false, xanchor: k === 2 ? 'right' : 'left', yanchor: 'middle',
    xshift: k === 2 ? -7 : 7, font: { family: FONT, size: 14, color: FLARE_COLORS[k] }
  }));
}

const layout = Object.assign({
  width: W, height: H, margin: { l: 0, r: 0, t: 0, b: 0 },
  paper_bgcolor: '#fff', plot_bgcolor: '#fff',
  font: { family: FONT, color: '#000' },
  legend: { x: 73 / W, y: 1 - 160 / H, xanchor: 'left', yanchor: 'top', bgcolor: '#fff',
    bordercolor: '#000', borderwidth: 1, font: { family: FONT, size: 13, color: '#000' },
    itemwidth: 30, traceorder: 'normal' },
  legend2: { x: 73 / W, y: 1 - 620 / H, xanchor: 'left', yanchor: 'top', bgcolor: '#fff',
    bordercolor: '#000', borderwidth: 1, font: { family: FONT, size: 13, color: '#000' },
    itemwidth: 30, traceorder: 'normal' },
  shapes: flareShapes(FLARES_22DBL, 'x', 'y', LIMIT_22DBL)
    .concat(flareShapes(FLARES_20VDQ, 'x3', 'y3', LIMIT_20VDQ)),
  annotations: flareNotes(FLARES_22DBL, 'x', 'y', 0.958)
    .concat(flareNotes(FLARES_20VDQ, 'x3', 'y3', 0.963))
    .concat([{ xref: 'paper', yref: 'paper', x: 8 / W, y: 1 - 14 / H, text: '4', showarrow: false,
      xanchor: 'left', yanchor: 'middle', font: { family: 'DejaVu Serif, serif', size: 15, color: '#000' } }])
},
  panelAxes(MJD_RANGE_22DBL, MAG_RANGE_22DBL, FLARES_22DBL[0], DISTMOD_22DBL, 250, 50, Y_DOM_TOP, TITLE_22DBL,
    { x: 'xaxis', xt: 'xaxis2', y: 'yaxis', yr: 'yaxis2', xShort: 'x', yShort: 'y' }),
  panelAxes(MJD_RANGE_20VDQ, MAG_RANGE_20VDQ, FLARES_20VDQ[0], DISTMOD_20VDQ, 500, 100, Y_DOM_BOT, TITLE_20VDQ,
    { x: 'xaxis3', xt: 'xaxis4', y: 'yaxis3', yr: 'yaxis4', xShort: 'x3', yShort: 'y3' })
);

Plotly.newPlot('chart', traces, layout, { displayModeBar: false, staticPlot: true });
</script>
</body>
</html>
